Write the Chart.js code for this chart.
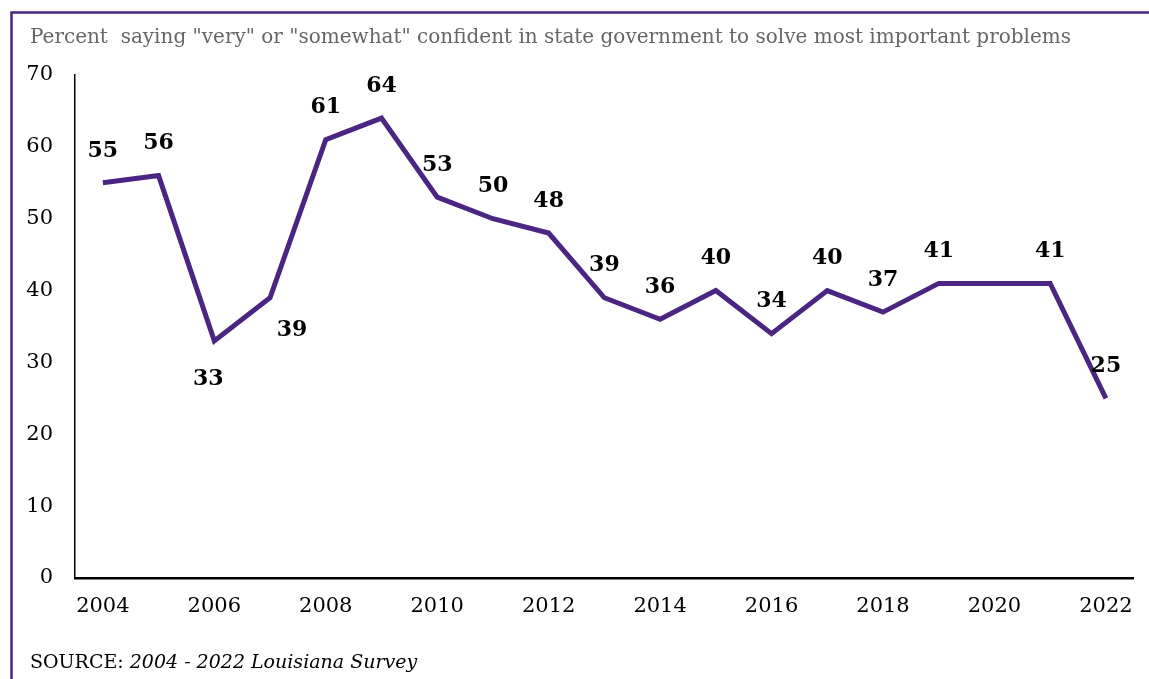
<!DOCTYPE html>
<html>
<head>
<meta charset="utf-8">
<script src="https://cdn.jsdelivr.net/npm/chart.js@4/dist/chart.umd.min.js"></script>
<style>
  html, body { margin: 0; padding: 0; background: #fff; overflow: hidden; }
  #wrap { position: relative; width: 1149px; height: 679px; }
</style>
</head>
<body>
<div id="wrap"><canvas id="c" width="1149" height="679"></canvas></div>
<script>
// Survey years (2020 had no reading; the line bridges the gap)
const years = ['2004','2005','2006','2007','2008','2009','2010','2011','2012','2013',
               '2014','2015','2016','2017','2018','2019','2020','2021','2022'];
// Percent saying "very" or "somewhat" confident
const confident = [55, 56, 33, 39, 61, 64, 53, 50, 48, 39, 36, 40, 34, 40, 37, 41, null, 41, 25];
// Value axis ticks
const yTicks = [0, 10, 20, 30, 40, 50, 60, 70];

const titleText = 'Percent  saying "very" or "somewhat" confident in state government to solve most important problems';
const sourceLead = 'SOURCE: ';
const sourceRest = '2004 - 2022 Louisiana Survey';

const PURPLE = '#4a2582';
const SERIF = '"DejaVu Serif", "Liberation Serif", serif';

// Label placement relative to its point (px): default sits above the line
const labelDefault = [0, -32];
const labelOverride = { 2: [-6, 38], 3: [22, 33] };

const valueLabels = {
  id: 'valueLabels',
  afterDatasetsDraw(chart) {
    const ctx = chart.ctx;
    const meta = chart.getDatasetMeta(0);
    const data = chart.data.datasets[0].data;
    ctx.save();
    ctx.font = 'bold 22px ' + SERIF;
    ctx.fillStyle = '#000';
    ctx.textAlign = 'center';
    ctx.textBaseline = 'middle';
    meta.data.forEach((pt, i) => {
      if (data[i] === null) return;
      const [dx, dy] = labelOverride[i] || labelDefault;
      ctx.fillText(String(data[i]), pt.x + dx, pt.y + dy);
    });
    ctx.restore();
  }
};

const frameAndText = {
  id: 'frameAndText',
  beforeDraw(chart) {
    const ctx = chart.ctx;
    ctx.save();
    ctx.fillStyle = '#fff';
    ctx.fillRect(0, 0, chart.width, chart.height);
    ctx.restore();
  },
  afterDraw(chart) {
    const ctx = chart.ctx;
    ctx.save();
    // outer frame (top and left edges)
    ctx.strokeStyle = PURPLE;
    ctx.lineWidth = 2.5;
    ctx.beginPath();
    ctx.moveTo(11.5, chart.height);
    ctx.lineTo(11.5, 12.5);
    ctx.lineTo(chart.width + 5, 12.5);
    ctx.stroke();
    // heading
    ctx.fillStyle = '#666666';
    ctx.font = '20px ' + SERIF;
    ctx.textAlign = 'left';
    ctx.textBaseline = 'alphabetic';
    ctx.fillText(titleText, 30, 43);
    // source line
    ctx.fillStyle = '#000';
    ctx.font = '19px ' + SERIF;
    ctx.fillText(sourceLead, 30, 668);
    const w = ctx.measureText(sourceLead).width;
    ctx.font = 'italic 19px ' + SERIF;
    ctx.fillText(sourceRest, 30 + w, 668);
    ctx.restore();
  }
};

new Chart(document.getElementById('c'), {
  type: 'line',
  data: {
    labels: years,
    datasets: [{
      data: confident,
      borderColor: PURPLE,
      borderWidth: 5,
      pointRadius: 0,
      pointHoverRadius: 0,
      tension: 0,
      fill: false,
      spanGaps: true
    }]
  },
  options: {
    responsive: false,
    animation: false,
    devicePixelRatio: 1,
    events: [],
    layout: { padding: { top: 75, right: 14, left: 0, bottom: 0 } },
    plugins: {
      legend: { display: false },
      title: { display: false },
      tooltip: { enabled: false }
    },
    scales: {
      x: {
        type: 'category',
        offset: true,
        grid: { display: false, drawTicks: false },
        border: { display: true, color: '#000', width: 2.5 },
        ticks: {
          autoSkip: false,
          maxRotation: 0,
          padding: 16,
          color: '#000',
          font: { family: SERIF, size: 21 },
          callback: (v, i) => (i % 2 === 0 ? years[i] : '')
        },
        afterFit: (s) => { s.height = 101; }
      },
      y: {
        min: 0,
        max: 70,
        afterBuildTicks: (s) => { s.ticks = yTicks.map(v => ({ value: v })); },
        grid: { display: false, drawTicks: false },
        border: { display: true, color: '#000', width: 1.5 },
        ticks: {
          padding: 22,
          color: '#000',
          font: { family: SERIF, size: 21 }
        },
        afterFit: (s) => { s.width = 75; }
      }
    }
  },
  plugins: [frameAndText, valueLabels]
});
</script>
</body>
</html>
